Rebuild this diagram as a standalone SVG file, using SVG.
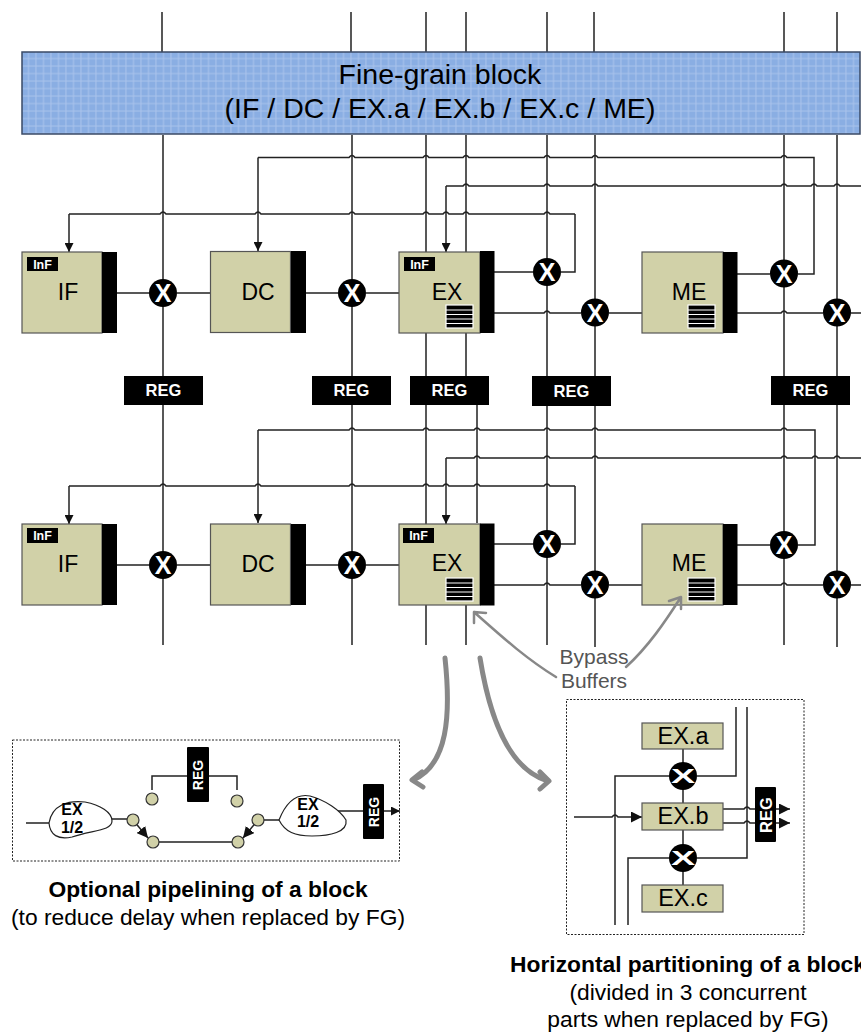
<svg xmlns="http://www.w3.org/2000/svg" width="861" height="1032" viewBox="0 0 861 1032">
<style>
text{font-family:"Liberation Sans",Arial,sans-serif;text-anchor:middle;fill:#000}
.w{fill:none;stroke:#222;stroke-width:1.5}
.box{fill:#d1d1a8;stroke:#555;stroke-width:1.2}
.bar{fill:#000}
.lbl{font-size:23px}
.sm{font-size:23.5px}
.inf{font-size:12.5px;font-weight:bold;fill:#fff}
.reg{font-size:16.500px;font-weight:bold;fill:#fff}
.x{font-size:25px;font-weight:bold;fill:#fff}
.sub{font-size:22.800px}
.bold{font-size:22.800px;font-weight:bold}
.dash{fill:#fff;stroke:#222;stroke-width:1;stroke-dasharray:2 1.5}
.dot{fill:#d1d1a8;stroke:#333;stroke-width:1.2}
.gr{fill:none;stroke:#888;stroke-linecap:round;stroke-linejoin:round}
.by{font-size:21px;fill:#555}
</style>
<defs>
<pattern id="grid" width="7.5" height="7.5" patternUnits="userSpaceOnUse" x="22" y="52">
<rect width="7.5" height="7.5" fill="#8aaee3"/>
<path d="M6.5 0V7.5M0 6.5H7.5" stroke="#abc4ec" stroke-width="1"/>
</pattern>
<marker id="ah" viewBox="0 0 10 10" refX="10" refY="5" markerWidth="9" markerHeight="9" markerUnits="userSpaceOnUse" orient="auto"><path d="M0 0L10 5L0 10Z" fill="#111"/></marker>
<marker id="ahb" viewBox="0 0 10 10" refX="10" refY="5" markerWidth="11" markerHeight="11" markerUnits="userSpaceOnUse" orient="auto"><path d="M0 0L10 5L0 10Z" fill="#111"/></marker>
<g id="buf"><rect x="0" y="0" width="27" height="23" fill="#000" stroke="#fff" stroke-width="1.2"/><path d="M0 5H27M0 9.500H27M0 14H27M0 18.500H27" stroke="#fff" stroke-width="1"/></g>
</defs>

<g id="connectors">
<path class="w" d="M162 12V52M351 12V52M426 12V52M466 12V52M547 12V52M594 12V52M784 12V52M837 12V52"/>
<path class="w" d="M163 135V376M163 405V645M352 135V376M352 405V645M426 135V376M426 405V645M466 135V376M477 405V523M466 605V645M547 135V376M547 405V645M595 135V376M595 405V647M784 135V376M784 405V645M837 135V376M837 405V647"/>
<path class="w" d="M575 214H550q-3 -4 -6 0H469q-3 -4 -6 0H449q-3 -4 -6 0H429q-3 -4 -6 0H355q-3 -4 -6 0H261q-3 -4 -6 0H166q-3 -4 -6 0H69" />
<path class="w" d="M69 214V252" marker-end="url(#ah)"/>
<path class="w" d="M258 157.500V251" marker-end="url(#ah)"/>
<path class="w" d="M258 157.500H349q3 -4 6 0H423q3 -4 6 0H463q3 -4 6 0H544q3 -4 6 0H592q3 -4 6 0H781q3 -4 6 0H814V274H798"/>
<path class="w" d="M446 186V252" marker-end="url(#ah)"/>
<path class="w" d="M446 186H463q3 -4 6 0H544q3 -4 6 0H592q3 -4 6 0H781q3 -4 6 0H811q3 -4 6 0H834q3 -4 6 0H861"/>
<path class="w" d="M575 214V272H561"/>
<path class="w" d="M117 293H149M177 293H210M306 293H338M366 293H399M494 272H533"/>
<path class="w" d="M494 313H544q3 -4 6 0H581M609 313H642M737 274H770M737 313H781q3 -4 6 0H823M851 313H861"/>
<path class="w" d="M575 486H550q-3 -4 -6 0H480q-3 -4 -6 0H449q-3 -4 -6 0H429q-3 -4 -6 0H355q-3 -4 -6 0H261q-3 -4 -6 0H166q-3 -4 -6 0H69"/>
<path class="w" d="M69 486V524" marker-end="url(#ah)"/>
<path class="w" d="M258 430V523" marker-end="url(#ah)"/>
<path class="w" d="M258 430H349q3 -4 6 0H423q3 -4 6 0H474q3 -4 6 0H544q3 -4 6 0H592q3 -4 6 0H781q3 -4 6 0H815V545H798"/>
<path class="w" d="M446 458V524" marker-end="url(#ah)"/>
<path class="w" d="M446 458H474q3 -4 6 0H544q3 -4 6 0H592q3 -4 6 0H781q3 -4 6 0H812q3 -4 6 0H834q3 -4 6 0H861"/>
<path class="w" d="M575 486V544H561"/>
<path class="w" d="M117 565H149M177 565H210M306 565H338M366 565H399M494 544H533"/>
<path class="w" d="M494 585H544q3 -4 6 0H581M609 585H642M737 545H770M737 585H781q3 -4 6 0H823M851 585H861"/>
</g>

<g id="fine-grain"><rect x="22" y="52" width="838" height="82" fill="url(#grid)" stroke="#3a4a66" stroke-width="1.500"/>
<text x="440" y="84" font-size="28.500">Fine-grain block</text><text x="440" y="118" font-size="28.500">(IF / DC / EX.a / EX.b / EX.c / ME)</text></g>

<g id="if1"><rect class="box" x="22" y="252" width="80" height="81"/><rect class="bar" x="102" y="252" width="15" height="81"/><rect class="bar" x="27" y="257" width="31" height="14"/><text class="inf" x="42.500" y="268.500">InF</text><text class="lbl" x="68" y="300">IF</text></g>
<g id="dc1"><rect class="box" x="210.500" y="251.500" width="80" height="81"/><rect class="bar" x="291" y="251" width="15" height="82"/><text class="lbl" x="258" y="300">DC</text></g>
<g id="ex1"><rect class="box" x="399" y="252" width="81" height="81"/><rect class="bar" x="480" y="251" width="14.500" height="82"/><rect class="bar" x="404" y="257" width="31" height="14"/><text class="inf" x="419.500" y="268.500">InF</text><text class="lbl" x="447" y="300">EX</text><use href="#buf" x="446" y="305"/></g>
<g id="me1"><rect class="box" x="642" y="252" width="81" height="81"/><rect class="bar" x="723" y="252" width="14.500" height="81"/><text class="lbl" x="689" y="300">ME</text><use href="#buf" x="688" y="305"/></g>

<g id="if2"><rect class="box" x="22" y="524" width="80" height="81"/><rect class="bar" x="102" y="524" width="15" height="81"/><rect class="bar" x="27" y="528" width="31" height="15"/><text class="inf" x="42.500" y="540">InF</text><text class="lbl" x="68" y="572">IF</text></g>
<g id="dc2"><rect class="box" x="210.500" y="524" width="80" height="81"/><rect class="bar" x="291" y="524" width="15" height="81"/><text class="lbl" x="258" y="572">DC</text></g>
<g id="ex2"><rect class="box" x="399" y="524" width="81" height="81"/><rect class="bar" x="480" y="523.500" width="14.500" height="82"/><rect class="bar" x="403" y="528" width="31" height="15"/><text class="inf" x="418.500" y="540">InF</text><text class="lbl" x="447" y="571">EX</text><use href="#buf" x="446" y="578"/></g>
<g id="me2"><rect class="box" x="642" y="524" width="81" height="81"/><rect class="bar" x="723" y="524" width="14.500" height="81"/><text class="lbl" x="689" y="571">ME</text><use href="#buf" x="688" y="578"/></g>

<g id="x-row1">
<circle cx="163" cy="293" r="14"/><text class="x" x="163" y="302">X</text>
<circle cx="352" cy="293" r="14"/><text class="x" x="352" y="302">X</text>
<circle cx="547" cy="272" r="14"/><text class="x" x="547" y="281">X</text>
<circle cx="595" cy="312.500" r="14"/><text class="x" x="595" y="321.500">X</text>
<circle cx="784" cy="273.500" r="14"/><text class="x" x="784" y="282.500">X</text>
<circle cx="837" cy="312.500" r="14"/><text class="x" x="837" y="321.500">X</text>
</g>
<g id="x-row2">
<circle cx="163" cy="565" r="14"/><text class="x" x="163" y="574">X</text>
<circle cx="352" cy="565" r="14"/><text class="x" x="352" y="574">X</text>
<circle cx="547" cy="544" r="14"/><text class="x" x="547" y="553">X</text>
<circle cx="595" cy="584.500" r="14"/><text class="x" x="595" y="593.500">X</text>
<circle cx="784" cy="545" r="14"/><text class="x" x="784" y="554">X</text>
<circle cx="837" cy="584.500" r="14"/><text class="x" x="837" y="593.500">X</text>
</g>
<g id="regs">
<rect x="124" y="376" width="79" height="29"/><text class="reg" x="163.500" y="396">REG</text>
<rect x="312" y="376" width="79" height="29"/><text class="reg" x="351.500" y="396">REG</text>
<rect x="410" y="376" width="79" height="29"/><text class="reg" x="449.500" y="396">REG</text>
<rect x="532" y="376" width="79" height="30"/><text class="reg" x="571.500" y="396.500">REG</text>
<rect x="771" y="376" width="79" height="29"/><text class="reg" x="810.500" y="396">REG</text>
</g>

<g id="bypass">
<text class="by" x="594" y="664">Bypass</text><text class="by" x="594" y="688">Buffers</text>
<path class="gr" stroke-width="2.500" d="M556 677C525 658 500 635 474 612M474 623L474 612L486 613"/>
<path class="gr" stroke-width="2.500" d="M626 667C648 647 665 622 681 597M669 601L681 597L681 609"/>
</g>
<g id="big-arrows">
<path class="gr" stroke-width="5" d="M445 658C451 715 448 765 413 780M422 772L412 780L423 787"/>
<path class="gr" stroke-width="5" d="M480 658C490 720 510 770 548 781M540 772L549 781L540 789"/>
</g>

<g id="pipeline">
<rect class="dash" x="12.500" y="740" width="387" height="121"/>
<path class="w" d="M152 790V776H237V790M26 823H49M112 819H133M258 820H279M153 842H238M338 811H363"/>
<path class="w" d="M384 811H400" marker-end="url(#ah)"/>
<path class="w" d="M133 820L148 838" marker-end="url(#ahb)"/>
<path class="w" d="M258 820L243 838" marker-end="url(#ahb)"/>
<path fill="#fff" stroke="#222" stroke-width="1.200" d="M49 823C52 805 68 800 85 802C100 805 112 812 112 821C112 831 92 830 72 837C58 840 50 835 49 823Z"/>
<path fill="#fff" stroke="#222" stroke-width="1.200" d="M279 820C285 805 295 793 310 796C325 800 340 810 346 820C348 832 330 836 312 836C295 836 285 832 279 820Z"/>
<text x="72" y="815" font-size="16" font-weight="bold">EX</text><text x="72" y="833" font-size="16" font-weight="bold">1/2</text>
<text x="308" y="810" font-size="16" font-weight="bold">EX</text><text x="308" y="827" font-size="16" font-weight="bold">1/2</text>
<circle class="dot" cx="152" cy="799" r="6"/><circle class="dot" cx="237" cy="801" r="6"/><circle class="dot" cx="133" cy="820" r="6"/><circle class="dot" cx="258" cy="820" r="6"/><circle class="dot" cx="153" cy="842" r="6"/><circle class="dot" cx="238" cy="842" r="6"/>
<rect x="187" y="747" width="22" height="55" rx="1"/><text class="reg" style="font-size:14px" transform="translate(203 775) rotate(-90)">REG</text>
<rect x="363" y="784" width="21" height="55" rx="1"/><text class="reg" style="font-size:14px" transform="translate(378.500 812) rotate(-90)">REG</text>
<text class="bold" x="208" y="897">Optional pipelining of a block</text>
<text class="sub" x="208" y="925">(to reduce delay when replaced by FG)</text>
</g>

<g id="partition">
<rect class="dash" x="566.500" y="699.500" width="237.500" height="235"/>
<path class="w" d="M736 707V776H697M669 776H615V925M747 707V858H697M669 858H628V925"/>
<path class="w" d="M683 749V803M683 830V885"/>
<path class="w" d="M574 817H612q3 -4 6 0H642" marker-end="url(#ahb)"/>
<path class="w" d="M723 809H744q3 -4 6 0H790" marker-end="url(#ahb)"/>
<path class="w" d="M723 823H744q3 -4 6 0H790" marker-end="url(#ahb)"/>
<rect class="box" x="642" y="723" width="81" height="26"/><text class="sm" x="683" y="744">EX.a</text>
<rect class="box" x="642" y="803" width="81" height="27"/><text class="sm" x="683" y="824">EX.b</text>
<rect class="box" x="642" y="885" width="81" height="27"/><text class="sm" x="683" y="906">EX.c</text>
<circle cx="683" cy="776" r="14"/><text class="x" transform="translate(683 783) scale(1.450 .8)">X</text>
<circle cx="683" cy="858" r="14"/><text class="x" transform="translate(683 865) scale(1.450 .8)">X</text>
<rect x="755" y="787" width="21" height="55" rx="1"/><text class="reg" transform="translate(771.500 815) rotate(-90)">REG</text>
<text class="bold" x="688" y="972">Horizontal partitioning of a block</text>
<text class="sub" x="688" y="1000">(divided in 3 concurrent</text>
<text class="sub" x="688" y="1027">parts when replaced by FG)</text>
</g>
</svg>
